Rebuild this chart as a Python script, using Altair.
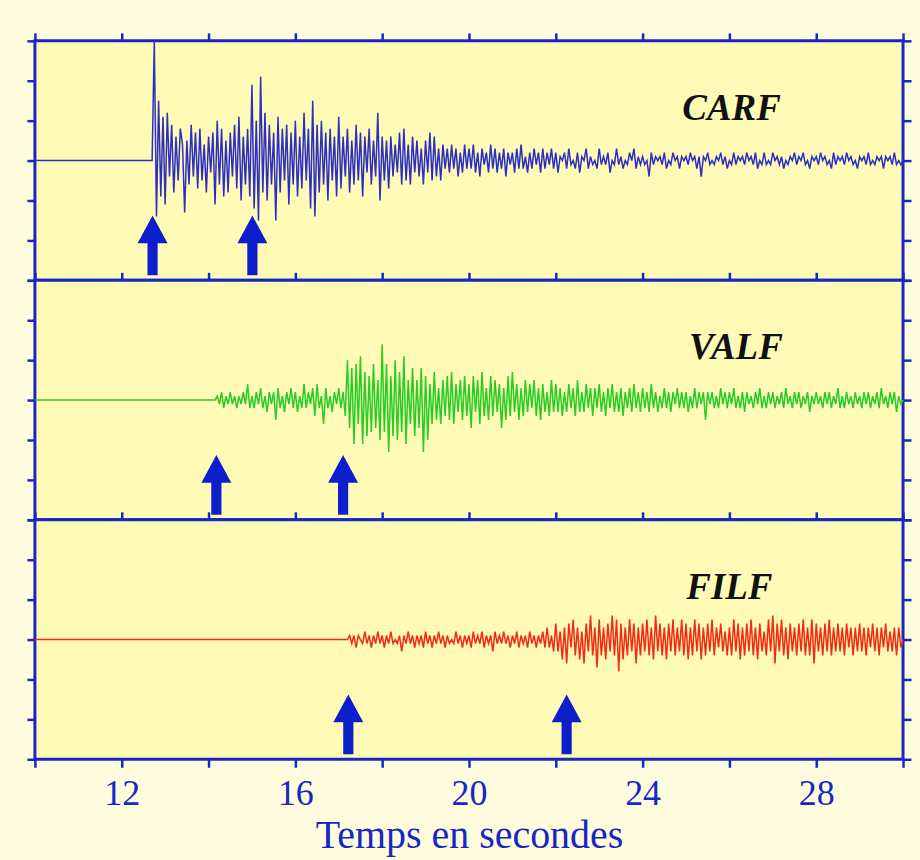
import altair as alt
import pandas as pd

# ---------------------------------------------------------------------------
# Seismograms of three stations (amplitude in arbitrary units, 10 per division)
# Samples every 0.05 s starting at each trace's onset time; before onset the
# trace is flat at zero from t = 10 s.
# ---------------------------------------------------------------------------
DT = 0.05
T_START = 10.0

stations = ["CARF", "VALF", "FILF"]
trace_colors = ["#2B2FC2", "#27CC27", "#F52A15"]
onsets = [12.70, 14.15, 17.20]

carf_values = [
    0, 30, -14, 15, -9, 11,
    -11, 12, -4, 9, -8, 6, -5, 8, 4, -13, 5, -6, 9, -4, 7, -7, 8, -5, 4, -8,
    6, -3, 7, -11, 10, -6, 8, -9, 5, -8, 7, -4, 9, -7, 11, -10, 6, -6, 8, -9,
    19, -12, 10, -15, 21, -8, 12, -10, 9, -6, 7, -15, 11, -8, 8, -5, 9, -11, 7, -6,
    10, -9, 6, -7, 12, -5, 8, -12, 15, -14, 9, -8, 10, -6, 7, -10, 8, -5, 6, -9,
    11, -7, 6, -4, 8, -8, 5, -6, 9, -5, 7, -9, 6, -3, 8, -6, 5, -4, 12, -10,
    6, -5, 5, -7, 6, -4, 4, -3, 7, -6, 8, -5, 4, -6, 6, -3, 5, -4, 3, -6,
    5, -3, 7, -5, 6, -4, 3, -5, 4, -2, 3, -3, 4, -2, 3, -4, 2, -3, 4, -2,
    3, -2, 4, -3, 2, -4, 3, -1, 2, -3, 4, -2, 3, -3, 2, -2, 3, -4, 2, -1,
    2, -3, 3, -2, 4, -2, 1, -3, 2, -2, 3, -1, 2, -3, 3, -2, 2, -1, 3, -2,
    2, -3, 1, 0, 2, -2, 3, -1, 0, -2, 2, -3, 1, 0, 3, -2, 1, -1, 0, -2,
    3, -1, 1, -1, 2, -3, 0, -1, 3, -1, 1, -2, 0, -1, 2, 0, 3, -2, 1, -1,
    1, -1, 0, -4, 2, -1, 1, 0, 1, -1, 2, -2, 0, -1, 2, 0, 1, -2, 1, 0,
    1, -1, 2, 0, 1, -2, 1, -4, 1, 0, 2, -1, 0, -1, 1, 0, 2, -1, 1, -2,
    0, -1, 2, -1, 1, 0, 1, -1, 2, 0, 1, -1, 2, -2, 0, -1, 2, -1, 0, -1,
    2, 0, 1, -1, 1, -2, 0, -1, 1, 0, 2, -1, 1, 0, 2, -1, 0, -2, 1, 0,
    1, -1, 2, 0, 1, -1, 0, -2, 2, -1, 1, 0, 1, -1, 2, 0, 1, -1, 0, -2,
    1, 0, 1, -1, 2, -1, 0, -1, 1, 0, 1, -2, 1, 0, 1, -1, 2, -1, 0, -1,
    0,
]

valf_values = [
    0, 1, -1, 2, -2, 1, -1, 2, -1, 1, -2, 1, -1, 2, -1, 4, -2,
    1, -2, 2, -1, 3, -2, 1, -3, 2, -1, 2, -5, 3, -2, 1, -3, 2, -1, 3, -2,
    2, -3, 1, -2, 4, -2, 2, -1, 3, -4, 4, -2, 1, -6, 3, -2, 1, -3, 2, -1,
    3, -2, 2, -4, 10, -7, 8, -11, 9, -6, 11, -11, 7, -9, 6, -8, 9, -7, 5, -10,
    14, -8, 9, -13, 6, -9, 10, -10, 7, -8, 11, -11, 5, -6, 8, -9, 5, -7, 8, -13,
    6, -10, 4, -6, 7, -5, 3, -6, 5, -4, 6, -5, 7, -6, 4, -3, 5, -5, 6, -4,
    4, -7, 6, -3, 5, -6, 7, -4, 3, -5, 6, -4, 5, -3, 4, -7, 3, -5, 6, -4,
    7, -3, 4, -5, 3, -4, 5, -3, 4, -2, 5, -4, 3, -5, 4, -3, 2, -4, 5, -3,
    4, -3, 3, -4, 2, -3, 4, -2, 3, -4, 5, -3, 2, -3, 4, -2, 3, -4, 3, -2,
    4, -3, 2, -4, 3, -2, 4, -3, 2, -3, 3, -4, 2, -2, 3, -3, 4, -2, 2, -3,
    3, -2, 2, -3, 4, -2, 2, -3, 1, -2, 3, -2, 2, -3, 2, -1, 3, -2, 2, -2,
    2, -3, 1, -2, 3, -2, 2, -1, 2, -5, 2, -1, 2, -2, 1, -2, 3, -1, 2, -2,
    2, -1, 3, -2, 1, -2, 2, -3, 2, -1, 1, -2, 2, -1, 3, -2, 1, -2, 2, -1,
    2, -2, 1, -1, 2, -2, 3, -1, 1, -2, 2, -1, 2, -2, 1, -1, 2, -3, 1, -1,
    2, -1, 1, -2, 2, -1, 2, -2, 1, -1, 3, -2, 1, -2, 2, -1, 1, -2, 2, -1,
    1, -2, 2, -1, 2, -2, 1, -1, 2, -2, 3, -1, 1, -2, 2, -1, 2, -3, 1, -1,
    0,
]

filf_values = [
    0, 1, -1, 1, -2, 1, 0, -1, 2, -1, 1, -2, 1, -1, 2, -1,
    1, -2, 1, -1, 2, -1, 0, -1, 1, -3, 1, -1, 2, -1, 1, -2, 1, -1, 1, -2,
    2, -1, 1, -2, 1, -1, 2, -1, 1, -2, 1, -1, 0, -1, 2, -1, 1, -2, 1, -1,
    1, -2, 2, -1, 1, -1, 2, -2, 1, -1, 1, -3, 2, -1, 1, -1, 2, -1, 1, -2,
    1, -1, 2, -2, 1, -1, 1, -2, 2, -1, 1, -2, 1, -1, 2, -2, 3, -2, 1, -3,
    4, -3, 2, -5, 3, -6, 4, -2, 5, -4, 3, -5, 2, -6, 4, -3, 6, -4, 3, -7,
    5, -4, 3, -5, 4, -3, 6, -4, 5, -8, 4, -5, 3, -4, 5, -3, 4, -6, 3, -4,
    4, -3, 5, -4, 3, -5, 6, -3, 4, -4, 3, -5, 4, -3, 5, -4, 3, -3, 5, -4,
    4, -5, 3, -4, 5, -3, 4, -5, 3, -4, 4, -3, 5, -4, 3, -2, 4, -3, 2, -4,
    3, -4, 5, -3, 4, -5, 3, -4, 4, -3, 5, -4, 3, -5, 4, -3, 2, -4, 5, -3,
    6, -6, 4, -3, 5, -4, 3, -5, 4, -3, 3, -4, 4, -3, 5, -4, 3, -4, 5, -6,
    4, -3, 3, -4, 4, -3, 5, -4, 3, -3, 4, -3, 3, -4, 4, -2, 3, -4, 3, -3,
    4, -3, 3, -4, 3, -2, 4, -3, 3, -4, 3, -2, 4, -3, 2, -3, 3, -4, 3, -2,
    0,
]

trace_values = [carf_values, valf_values, filf_values]

# Picked phase arrivals (s), two per station
arrivals = [[12.71, 15.01], [14.18, 17.10], [17.22, 22.25]]

# Station label placement (time, amplitude)
label_time = [26.05, 26.15, 26.0]
label_amp = [13, 13, 13]

X_DOMAIN = [10, 30]
Y_DOMAIN = [-30, 30]
X_TICKS = list(range(10, 31, 2))
Y_TICKS = list(range(-30, 31, 10))

FRAME = "#1627C6"
ARROW = "#0D1FCB"
PANEL_BG = "#FFFAB6"
OUTER_BG = "#FEFCDC"
ARROW_LEVEL = -21.25
ARROW_PATH = ("M0,-1L0.5,-0.07L0.17,-0.07L0.17,1L-0.17,1L-0.17,-0.07"
              "L-0.5,-0.07Z")


def trace_frame(t0, values):
    times = [T_START] + [round(t0 + i * DT, 2) for i in range(len(values))]
    amps = [0] + list(values)
    return pd.DataFrame({"t": times, "v": amps})


def tick_axis(orient, values, **extra):
    opts = dict(orient=orient, values=values, labels=False, title=None,
                domain=False, grid=False, ticks=True, tickSize=8,
                tickWidth=2.5, tickColor=FRAME)
    opts.update(extra)
    return alt.Axis(**opts)


def panel(i, bottom):
    xs = alt.Scale(domain=X_DOMAIN, nice=False, zero=False)
    ys = alt.Scale(domain=Y_DOMAIN, nice=False, zero=False)

    line = alt.Chart(trace_frame(onsets[i], trace_values[i])).mark_line(
        color=trace_colors[i], strokeWidth=1.5
    ).encode(
        x=alt.X("t:Q", scale=xs, axis=tick_axis("top", X_TICKS)),
        y=alt.Y("v:Q", scale=ys, axis=tick_axis("left", Y_TICKS)),
        order="t:Q",
    )

    if bottom:
        x_bottom = tick_axis(
            "bottom", X_TICKS, labels=True,
            labelExpr="datum.value % 4 == 0 ? datum.label : ''",
            labelFont="Liberation Serif", labelFontSize=36,
            labelColor=FRAME, labelPadding=9,
            title="Temps en secondes", titleFont="Liberation Serif",
            titleFontSize=40, titleFontWeight="normal", titleColor=FRAME,
            titlePadding=4,
        )
    else:
        x_bottom = None

    arrow_df = pd.DataFrame({"t": arrivals[i],
                             "v": [ARROW_LEVEL] * len(arrivals[i])})
    arrows = alt.Chart(arrow_df).mark_point(
        shape=ARROW_PATH, size=3600, filled=True, color=ARROW,
        opacity=1, strokeWidth=0
    ).encode(
        x=alt.X("t:Q", scale=xs, axis=x_bottom),
        y=alt.Y("v:Q", scale=ys, axis=tick_axis("right", Y_TICKS)),
    )

    label_df = pd.DataFrame({"t": [label_time[i]], "v": [label_amp[i]],
                             "name": [stations[i]]})
    label = alt.Chart(label_df).mark_text(
        font="Liberation Serif", fontSize=37, fontStyle="italic",
        fontWeight="bold", color="#111111", align="center",
        baseline="middle"
    ).encode(
        x=alt.X("t:Q", scale=xs, axis=None),
        y=alt.Y("v:Q", scale=ys, axis=None),
        text="name:N",
    )

    return alt.layer(line, arrows, label).resolve_axis(
        x="independent", y="independent"
    ).properties(width=870, height=240)


chart = alt.vconcat(
    panel(0, False), panel(1, False), panel(2, True),
    spacing=0, bounds="flush",
).properties(
    background=OUTER_BG,
    padding={"left": 24, "top": 29, "right": 6, "bottom": 2},
).configure_view(
    stroke=FRAME, strokeWidth=3, fill=PANEL_BG
)

chart.save("out.html", embed_options={"renderer": "svg", "actions": False})
